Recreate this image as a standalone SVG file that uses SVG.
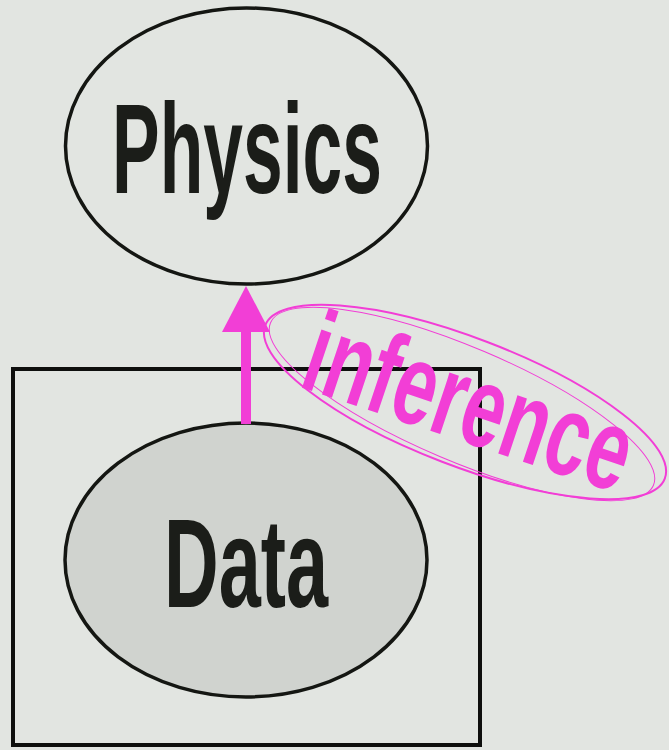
<svg xmlns="http://www.w3.org/2000/svg" width="669" height="750" viewBox="0 0 669 750">
<style>
.node{stroke:#141612;stroke-width:3.5}
.lbl{font-family:"Liberation Sans",Arial,sans-serif;font-weight:bold;fill:#1b1d19}
.pink{fill:#f23ed6}
.ring{fill:none;stroke:#f23ed6}
</style>
<rect width="669" height="750" fill="#e2e5e1"/>
<g id="plate">
<rect x="13" y="369" width="467" height="376" fill="none" stroke="#0e0f0d" stroke-width="4"/>
</g>
<g id="data">
<ellipse cx="246" cy="560" rx="181" ry="137" fill="#d0d3cf" class="node"/>
<text class="lbl" x="164" y="607" font-size="126" textLength="164" lengthAdjust="spacingAndGlyphs">Data</text>
</g>
<g id="physics">
<ellipse cx="246.5" cy="146" rx="181" ry="138" fill="none" class="node"/>
<text class="lbl" x="112" y="193" font-size="128" textLength="270" lengthAdjust="spacingAndGlyphs">Physics</text>
</g>
<g id="connectors">
<line x1="246" y1="424" x2="246" y2="326" stroke="#f23ed6" stroke-width="10"/>
<polygon class="pink" points="246,286 222,332 270,332"/>
</g>
<g id="inference">
<ellipse cx="465" cy="402" rx="214" ry="64" transform="rotate(21 465 402)" class="ring" stroke-width="2"/>
<ellipse cx="462" cy="404" rx="208" ry="57" transform="rotate(23 462 404)" class="ring" stroke-width="1"/>
<text class="lbl pink" transform="translate(297,386) rotate(18.5)" x="0" y="0" font-size="116" textLength="338" lengthAdjust="spacingAndGlyphs">inference</text>
</g>
</svg>
